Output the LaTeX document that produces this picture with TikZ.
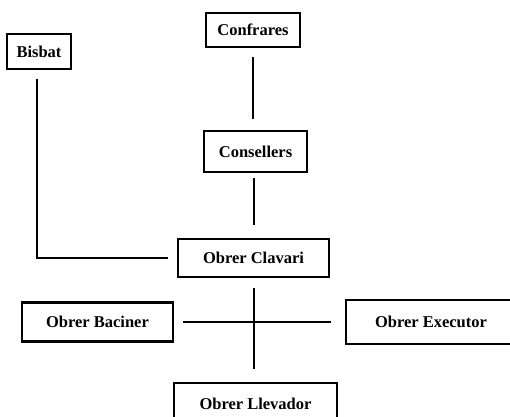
\documentclass[tikz,border=0pt]{standalone}
\usepackage{fontspec}
\setmainfont{Liberation Serif}
\usepackage{tikz}

\tikzset{
  office/.style={draw=black, line width=2.4pt, fill=white, inner sep=0pt,
    font=\fontsize{16.5}{18}\selectfont\bfseries},
  link/.style={draw=black, line width=2.2pt}
}

\begin{document}
\begin{tikzpicture}[x=1pt,y=-1pt]
\useasboundingbox (0,0) rectangle (510,416);
\node [office, minimum width=64pt, minimum height=35pt] (bisbat) at (39,51.5) {Bisbat};
\node [office, minimum width=94pt, minimum height=34pt] (confrares) at (253,30) {Confrares};
\node [office, minimum width=103pt, minimum height=41pt] (consellers) at (255.5,151.5) {Consellers};
\node [office, minimum width=151pt, minimum height=38pt] (clavari) at (253.5,258) {Obrer Clavari};
\node [office, minimum width=151pt, minimum height=39pt] (baciner) at (97.5,322) {Obrer Baciner};
\node [office, minimum width=170pt, minimum height=44pt] (executor) at (431,322) {Obrer Executor};
\node [office, minimum width=163pt, minimum height=42pt] (llevador) at (255.5,404) {Obrer Llevador};
\draw [link, shorten <=9pt, shorten >=11pt] (confrares.south -| 253,0) -- (consellers.north -| 253,0);
\draw [link, shorten <=5pt, shorten >=13pt] (consellers.south -| 254,0) -- (clavari.north -| 254,0);
\draw [link, shorten <=9pt, shorten >=9pt] (bisbat.south -| 37,0) |- (clavari.west);
\draw [link, shorten <=10pt, shorten >=13pt] (clavari.south -| 254,0) -- (llevador.north -| 254,0);
\draw [link, shorten <=9pt, shorten >=14pt] (baciner.east) -- (executor.west);
\end{tikzpicture}
\end{document}
